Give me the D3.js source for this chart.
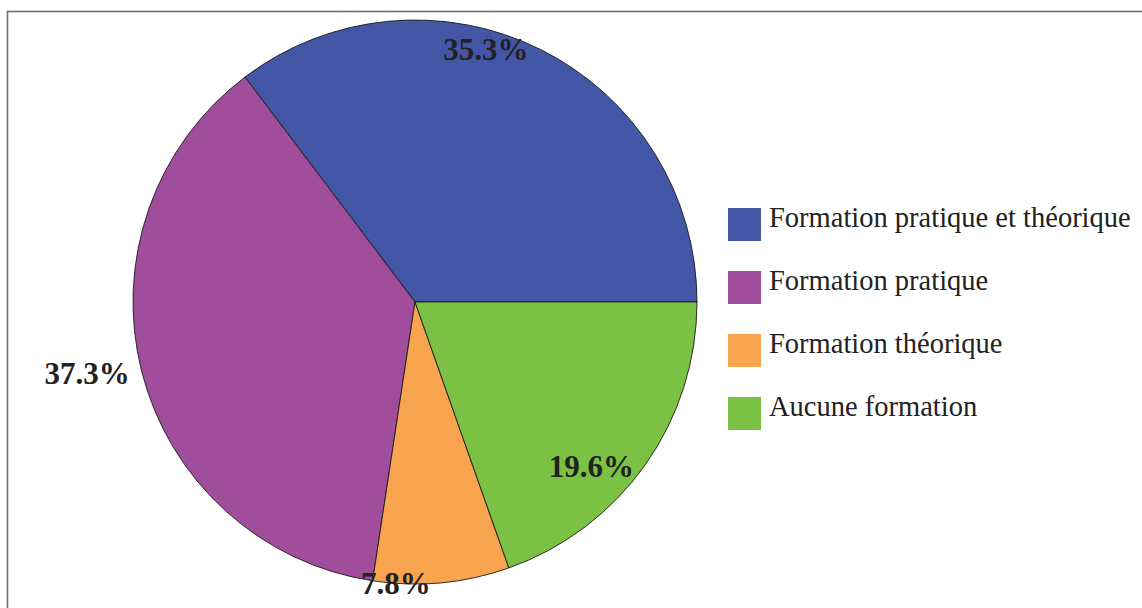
<!DOCTYPE html>
<html>
<head>
<meta charset="utf-8">
<script src="https://cdn.jsdelivr.net/npm/d3@7"></script>
<style>
  body { margin: 0; background: #fff; }
  svg { display: block; }
</style>
</head>
<body>
<svg id="chart" width="1142" height="608"></svg>
<script>
// ===== DATA =====
const categories = [
  "Formation pratique et théorique",
  "Formation pratique",
  "Formation théorique",
  "Aucune formation"
];
const shares = [35.3, 37.3, 7.8, 19.6];
const colors = ["#4457a7", "#a04e9c", "#f9a44e", "#7bc143"];

// label placement per slice: radius factor and counterclockwise shift (degrees) from mid-angle
const labelRadius = [0.93, 1.19, 1.0, 0.855];
const labelShift = [10.8, -2.0, -9.3, -7.7];

const width = 1142, height = 608;
const cx = 415, cy = 302, radius = 282;

const svg = d3.select("#chart");

// frame around the figure
svg.append("rect")
  .attr("x", 7.5)
  .attr("y", 11.5)
  .attr("width", 1200)
  .attr("height", 700)
  .attr("fill", "none")
  .attr("stroke", "#6e6e6e")
  .attr("stroke-width", 1.6);

const data = categories.map((c, i) => ({ name: c, value: shares[i], color: colors[i] }));

// counterclockwise, starting at 3 o'clock
const pie = d3.pie()
  .sort(null)
  .value(d => d.value)
  .startAngle(Math.PI / 2)
  .endAngle(Math.PI / 2 - 2 * Math.PI);

const arc = d3.arc().innerRadius(0).outerRadius(radius);

const g = svg.append("g").attr("transform", `translate(${cx},${cy})`);

const arcs = pie(data);

g.selectAll("path")
  .data(arcs)
  .join("path")
  .attr("d", arc)
  .attr("fill", d => d.data.color)
  .attr("stroke", "#1a1a1a")
  .attr("stroke-width", 0.9);

// ===== PERCENT LABELS =====
g.selectAll("text.pct")
  .data(arcs)
  .join("text")
  .attr("class", "pct")
  .attr("transform", (d, i) => {
    const mid = (d.startAngle + d.endAngle) / 2 - labelShift[i] * Math.PI / 180;
    const r = radius * labelRadius[i];
    return `translate(${r * Math.sin(mid)},${-r * Math.cos(mid)})`;
  })
  .attr("text-anchor", "middle")
  .attr("dy", "0.35em")
  .attr("font-family", "'Liberation Serif', 'DejaVu Serif', serif")
  .attr("font-weight", "bold")
  .attr("font-size", "31px")
  .attr("fill", "#222")
  .text(d => d.data.value.toFixed(1) + "%");

// ===== LEGEND =====
const legend = svg.append("g").attr("transform", "translate(728,208)");

const rows = legend.selectAll("g")
  .data(data)
  .join("g")
  .attr("transform", (d, i) => `translate(0,${i * 63})`);

rows.append("rect")
  .attr("width", 33)
  .attr("height", 33)
  .attr("fill", d => d.color);

rows.append("text")
  .attr("x", 41)
  .attr("y", 19)
  .attr("font-family", "'Liberation Serif', 'DejaVu Serif', serif")
  .attr("font-size", "28.5px")
  .attr("fill", "#222")
  .text(d => d.name);
</script>
</body>
</html>
